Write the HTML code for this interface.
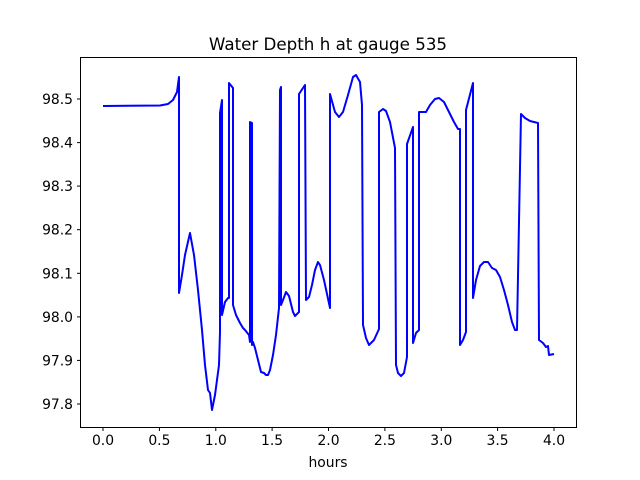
<!DOCTYPE html>
<html><head><meta charset="utf-8"><style>body{margin:0;background:#fff}svg{display:block}text{font-family:"DejaVu Sans","Liberation Sans",sans-serif;font-size:13.9px;fill:#000}</style></head><body>
<svg width="640" height="480" viewBox="0 0 640 480">
<rect width="640" height="480" fill="#fff"/>
<text x="328" y="50" text-anchor="middle" style="font-size:16.7px">Water Depth h at gauge 535</text>
<polyline fill="none" stroke="#0000ff" stroke-width="2" stroke-linejoin="round" points="103,106 160,105.5 168,104 173,100 177,92 179,77 179,293 182,275 185,255 190,233 194,255 198,290 202,330 205,365 208,390 210,393 212,410 215,395 219,365 220,332 220,113 222,100 222,315 225,302 228,298 229,298 229,83 233,88 233,305 236,315 240,323 243,328 245,330 249,335 250,342 250,122 252,123 252,345 253,342 255,348 258,360 261,372 264,373 266,375 268,375 270,370 273,355 276,335 279,308 280,90 281,87 281,305 283,300 286,292 289,296 293,312 295,316 299,312 299,94 305,85 306,300 309,297 312,285 315,270 318,262 320,265 324,280 330,308 330,94 335,112 339,117 343,112 348,95 353,77 356,75 360,82 362,105 363,325 366,338 369,345 374,340 379,329 379,112 383,109 386,111 390,122 395,148 396,365 398,373 401,376 404,373 407,357 407,144 413,127 413,343 416,333 419,330 419,112 426,112 430,105 435,99 439,98 444,102 449,112 454,122 458,129 460,129 460,345 463,340 466,332 466,110 473,83 473,298 476,280 480,266 484,262 488,262 492,268 496,270 500,277 504,290 508,305 512,322 515,330 517,330 521,114 525,118 530,121 538,123 539,340 543,343 546,347 548,346 549,355 554,354"/>
<rect x="80.5" y="57.5" width="496" height="370" fill="none" stroke="#000" stroke-width="1"/>
<g stroke="#000" stroke-width="1">
<line x1="103" y1="427.5" x2="103" y2="431"/><line x1="159.4" y1="427.5" x2="159.4" y2="431"/><line x1="215.8" y1="427.5" x2="215.8" y2="431"/><line x1="272.1" y1="427.5" x2="272.1" y2="431"/><line x1="328.5" y1="427.5" x2="328.5" y2="431"/><line x1="384.9" y1="427.5" x2="384.9" y2="431"/><line x1="441.3" y1="427.5" x2="441.3" y2="431"/><line x1="497.6" y1="427.5" x2="497.6" y2="431"/><line x1="554" y1="427.5" x2="554" y2="431"/>
<line x1="77" y1="404" x2="80.5" y2="404"/><line x1="77" y1="360.4" x2="80.5" y2="360.4"/><line x1="77" y1="316.9" x2="80.5" y2="316.9"/><line x1="77" y1="273.3" x2="80.5" y2="273.3"/><line x1="77" y1="229.7" x2="80.5" y2="229.7"/><line x1="77" y1="186.1" x2="80.5" y2="186.1"/><line x1="77" y1="142.6" x2="80.5" y2="142.6"/><line x1="77" y1="99" x2="80.5" y2="99"/>
</g>
<g text-anchor="middle">
<text x="103" y="445">0.0</text><text x="159.4" y="445">0.5</text><text x="215.8" y="445">1.0</text><text x="272.1" y="445">1.5</text><text x="328.5" y="445">2.0</text><text x="384.9" y="445">2.5</text><text x="441.3" y="445">3.0</text><text x="497.6" y="445">3.5</text><text x="554" y="445">4.0</text>
<text x="328" y="467">hours</text>
</g>
<g text-anchor="end">
<text x="73" y="409">97.8</text><text x="73" y="365.4">97.9</text><text x="73" y="321.9">98.0</text><text x="73" y="278.3">98.1</text><text x="73" y="234.7">98.2</text><text x="73" y="191.1">98.3</text><text x="73" y="147.6">98.4</text><text x="73" y="104">98.5</text>
</g>
</svg>
</body></html>
